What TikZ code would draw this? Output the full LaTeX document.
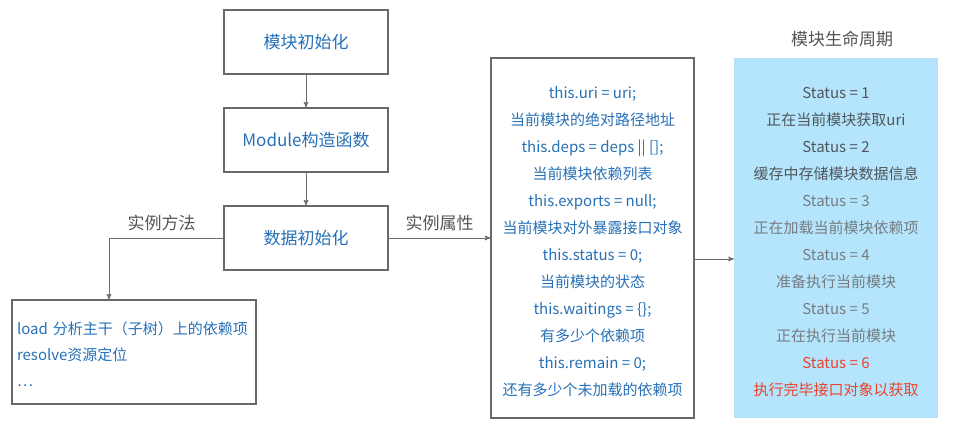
\documentclass[tikz,border=0pt]{standalone}
\usepackage{fontspec}
\setmainfont{Noto Sans CJK SC}
\usetikzlibrary{arrows,positioning}

\definecolor{txtblue}{RGB}{38,112,182}
\definecolor{boxgray}{RGB}{105,105,105}
\definecolor{linegray}{RGB}{110,110,110}
\definecolor{taggray}{RGB}{85,85,85}
\definecolor{lifeblue}{RGB}{180,229,252}
\definecolor{darkgray}{RGB}{80,86,92}
\definecolor{softgray}{RGB}{118,124,130}
\definecolor{donered}{RGB}{236,66,42}

\begin{document}
\begin{tikzpicture}[x=1pt,y=-1pt,>=stealth',node distance=98pt,
  box/.style={draw=boxgray,line width=1.3pt,minimum width=164pt,minimum height=64pt,text=txtblue,font=\fontsize{17}{20}\selectfont},
  link/.style={->,draw=linegray,line width=1pt},
  tag/.style={text=taggray,font=\fontsize{17}{20}\selectfont}]

\useasboundingbox (0,0) rectangle (956,428);

\node[box]   (load)      at (306,42)     {模块初始化};
\node[box]   (ctor) [below of=load]      {Module构造函数};
\node[box]   (init) [below of=ctor]      {数据初始化};

\node[draw=boxgray,line width=1.3pt,text=txtblue,align=left,inner xsep=5pt,text width=234pt,minimum height=104pt,font=\fontsize{15}{26}\selectfont]   (meth)   at (134,352)
  {\rule{0pt}{18pt}load 分析主干（子树）上的依赖项\\resolve资源定位\\…};

\node[draw=boxgray,line width=1.3pt,text=txtblue,align=center,minimum width=203pt,minimum height=360pt,font=\fontsize{15}{27}\selectfont]   (attr)   at (592.5,238)
  {\rule{0pt}{19pt}this.uri = uri;\\当前模块的绝对路径地址\\this.deps = deps || [];\\当前模块依赖列表\\this.exports = null;\\当前模块对外暴露接口对象\\this.status = 0;\\当前模块的状态\\this.waitings = \{\};\\有多少个依赖项\\this.remain = 0;\\还有多少个未加载的依赖项};

\node[fill=lifeblue,align=center,minimum width=204pt,minimum height=360pt,font=\fontsize{15}{27}\selectfont]   (life)   at (836,238)
  {\rule{0pt}{19pt}\textcolor{darkgray}{Status = 1}\\\textcolor{darkgray}{正在当前模块获取uri}\\\textcolor{darkgray}{Status = 2}\\\textcolor{darkgray}{缓存中存储模块数据信息}\\\textcolor{softgray}{Status = 3}\\\textcolor{softgray}{正在加载当前模块依赖项}\\\textcolor{softgray}{Status = 4}\\\textcolor{softgray}{准备执行当前模块}\\\textcolor{softgray}{Status = 5}\\\textcolor{softgray}{正在执行当前模块}\\\textcolor{donered}{Status = 6}\\\textcolor{donered}{执行完毕接口对象以获取}};

\node[tag]   (title) [above=7pt of life,xshift=6pt]   {模块生命周期};

\draw[link] (load) -- (ctor);
\draw[link] (ctor) -- (init);
\draw[link] (init.west) -| node[tag,above=3pt,pos=0.27]{实例方法} ([xshift=-25pt]meth.north);
\draw[link] (init) -- node[tag,above=3pt]{实例属性} (attr);
\draw[link] ([yshift=-21pt]attr.east) -- ([yshift=-21pt]life.west);
\end{tikzpicture}
\end{document}
